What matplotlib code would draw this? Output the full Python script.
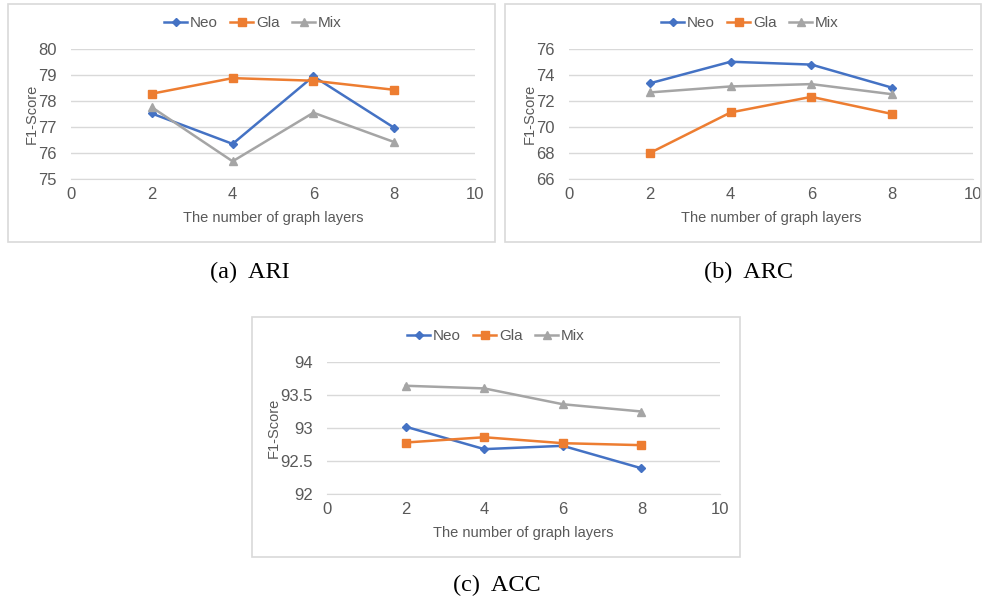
import matplotlib.pyplot as plt
from matplotlib.patches import Rectangle

# number of graph layers
layers = [2, 4, 6, 8]

# (a) ARI
ari_neo = [77.52, 76.35, 78.95, 76.97]
ari_gla = [78.28, 78.88, 78.78, 78.43]
ari_mix = [77.76, 75.68, 77.55, 76.42]

# (b) ARC
arc_neo = [73.36, 75.02, 74.80, 73.02]
arc_gla = [68.00, 71.12, 72.32, 71.00]
arc_mix = [72.66, 73.12, 73.30, 72.52]

# (c) ACC
acc_neo = [93.02, 92.68, 92.73, 92.39]
acc_gla = [92.78, 92.86, 92.77, 92.74]
acc_mix = [93.64, 93.60, 93.36, 93.25]

series_names = ["Neo", "Gla", "Mix"]
colors = ["#4472C4", "#ED7D31", "#A5A5A5"]
markers = ["D", "s", "^"]
marker_sizes = [4, 6, 6]

W, H = 982, 605
fig = plt.figure(figsize=(W / 100, H / 100), dpi=100)
plt.rcParams['font.family'] = ['Liberation Sans', 'DejaVu Sans']


def px_rect(x0, y0, x1, y1):
    # pixel box (top-left origin) -> figure fraction [left, bottom, width, height]
    return [x0 / W, 1 - y1 / H, (x1 - x0) / W, (y1 - y0) / H]


def panel(box, ax_box, legend_xy, ylim, yticks, ytick_labels, data, caption, caption_xy):
    fig.patches.append(Rectangle((box[0] / W, 1 - box[3] / H),
                                 (box[2] - box[0]) / W, (box[3] - box[1]) / H,
                                 transform=fig.transFigure, fill=False,
                                 edgecolor="#D9D9D9", linewidth=1.2))
    ax = fig.add_axes(px_rect(*ax_box))
    for vals, name, c, m, ms in zip(data, series_names, colors, markers, marker_sizes):
        ax.plot(layers, vals, color=c, marker=m, markersize=ms, linewidth=1.8, label=name)
    ax.set_xlim(0, 10)
    ax.set_xticks([0, 2, 4, 6, 8, 10])
    ax.set_ylim(*ylim)
    ax.set_yticks(yticks)
    ax.set_yticklabels(ytick_labels)
    ax.grid(axis='y', color="#D9D9D9", linewidth=1)
    ax.set_axisbelow(True)
    for s in ['top', 'right', 'left']:
        ax.spines[s].set_visible(False)
    ax.spines['bottom'].set_color("#D9D9D9")
    ax.tick_params(axis='x', length=0, labelsize=12, colors="#595959", pad=6)
    ax.tick_params(axis='y', length=0, labelsize=12, colors="#595959", pad=10)
    ax.set_xlabel("The number of graph layers", fontsize=10.5, color="#595959", labelpad=6)
    ax.set_ylabel("F1-Score", fontsize=10.5, color="#595959", labelpad=0)
    ax.legend(loc='center', bbox_to_anchor=(legend_xy[0] / W, 1 - legend_xy[1] / H),
              bbox_transform=fig.transFigure, ncol=3, frameon=False,
              fontsize=11, labelcolor="#595959", handlelength=1.5,
              handletextpad=0.2, columnspacing=0.8, borderaxespad=0)
    fig.text(caption_xy[0] / W, 1 - caption_xy[1] / H, caption,
             family=['Liberation Serif', 'DejaVu Serif'], fontsize=17.5,
             ha='center', va='center')
    return ax


panel((8, 4, 495, 242), (71, 49, 475, 179), (253, 23),
      (75, 80), [75, 76, 77, 78, 79, 80], ["75", "76", "77", "78", "79", "80"],
      [ari_neo, ari_gla, ari_mix], "(a)  ARI", (250, 272))

panel((505, 4, 981, 242), (569, 49, 973, 179), (750, 23),
      (66, 76), [66, 68, 70, 72, 74, 76], ["66", "68", "70", "72", "74", "76"],
      [arc_neo, arc_gla, arc_mix], "(b)  ARC", (749, 272))

panel((252, 317, 740, 557), (327, 362, 720, 494), (496, 336),
      (92, 94), [92, 92.5, 93, 93.5, 94], ["92", "92.5", "93", "93.5", "94"],
      [acc_neo, acc_gla, acc_mix], "(c)  ACC", (497, 585))

fig.savefig("out.png", dpi=100)
